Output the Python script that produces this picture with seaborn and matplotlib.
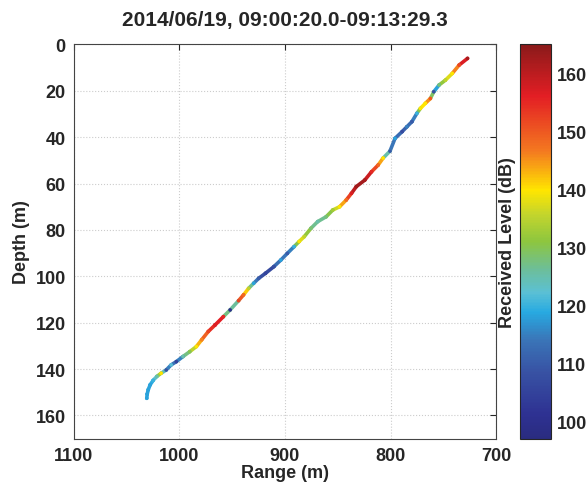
import numpy as np
import matplotlib
matplotlib.use("Agg")
import matplotlib.pyplot as plt
from matplotlib.collections import LineCollection
from matplotlib.colors import Normalize, LinearSegmentedColormap
import seaborn as sns

title = "2014/06/19, 09:00:20.0-09:13:29.3"

range_m = [727, 735, 741.5, 748, 754, 759, 762.2, 767, 771.7, 775, 779.7, 784.5,
           789, 795.7, 800.5, 807, 811.7, 818, 824.4, 832.4, 837, 842, 848.3,
           854.7, 861, 869, 875.4, 881.8, 886.6, 891.4, 897.8, 904, 910.5, 918.5,
           925, 929.7, 934.5, 939.3, 944, 952, 958.4, 966.3, 972.7, 979, 984,
           990.3, 996.7, 1003, 1007.9, 1012.6, 1017.4, 1021.5, 1025.0, 1027.8,
           1029.6, 1030.6, 1031.0]
depth_m = [6.0, 8.9, 12.5, 15.4, 17.5, 20.4, 23.3, 25.4, 27.6, 29.7, 33.3, 35.5,
           37.6, 40.5, 46.0, 49.0, 52.0, 54.9, 58.5, 61.3, 64.2, 67.1, 70.0,
           71.4, 74.3, 76.4, 79.3, 82.9, 85.0, 87.2, 90.1, 93.0, 95.8, 98.7,
           100.9, 103.0, 105.2, 108.0, 110.5, 114.5, 117.4, 121.0, 123.8, 127.4, 130.3,
           132.5, 134.6, 136.8, 138.2, 140.4, 141.8, 143.2, 144.9, 146.8,
           148.9, 150.8, 152.6]
level_db = [162, 152, 140, 135, 128, 108, 150, 140, 140, 120, 110, 115,
            107, 118, 110, 140, 148, 155, 162, 163, 157, 148, 140,
            133, 128, 125, 128, 135, 140, 120, 110, 118, 108, 105,
            110, 118, 135, 148, 152, 100, 155, 157, 152, 146, 140,
            130, 125, 105, 122, 108, 140, 125, 120, 118,
            118, 118, 118]

x_ticks = [1100, 1000, 900, 800, 700]
y_ticks = [0, 20, 40, 60, 80, 100, 120, 140, 160]
cbar_ticks = [100, 110, 120, 130, 140, 150, 160]

# muted jet-like colormap as seen on the reference colorbar
cmap = LinearSegmentedColormap.from_list("mjet", [
    (0.00, "#2A2C80"), (0.06, "#2E3192"), (0.17, "#3853A4"), (0.25, "#3A75B8"),
    (0.32, "#27AAE1"), (0.37, "#5BC0D5"), (0.43, "#6DBE98"), (0.50, "#8DC63F"),
    (0.57, "#C4D52C"), (0.63, "#FFE600"), (0.73, "#F47920"), (0.87, "#E31E24"),
    (1.00, "#8B1A1A")])

sns.set_style("white")
plt.rcParams["font.family"] = ["Liberation Sans", "DejaVu Sans"]
plt.rcParams["font.weight"] = "bold"

fig = plt.figure(figsize=(5.87, 4.89), dpi=100)
ax = fig.add_axes([0.126, 0.101, 0.719, 0.806])
cax = fig.add_axes([0.886, 0.101, 0.053, 0.806])

norm = Normalize(vmin=97, vmax=165)

r = np.array(range_m)
d = np.array(depth_m)
lv = np.array(level_db)
pts = np.column_stack([r, d]).reshape(-1, 1, 2)
segs = np.concatenate([pts[:-1], pts[1:]], axis=1)
seg_lv = (lv[:-1] + lv[1:]) / 2.0
lc = LineCollection(segs, cmap=cmap, norm=norm, linewidths=2.6, capstyle="round")
lc.set_array(seg_lv)
ax.add_collection(lc)
sns.scatterplot(x=r, y=d, hue=lv, palette=cmap, hue_norm=norm, s=7,
                linewidth=0, legend=False, ax=ax, zorder=3)

ax.set_xlim(1100, 700)
ax.set_ylim(170, 0)
ax.set_xticks(x_ticks)
ax.set_yticks(y_ticks)
ax.grid(True, linestyle=":", color="#cccccc", linewidth=0.8)
ax.tick_params(direction="in", top=True, right=True, length=4, labelsize=13,
               width=0.8, pad=6)
for lab in ax.get_xticklabels() + ax.get_yticklabels():
    lab.set_fontweight("bold")
for sp in ax.spines.values():
    sp.set_color("#444444")
    sp.set_linewidth(0.8)
ax.set_xlabel("Range (m)", fontsize=13, fontweight="bold", labelpad=0)
ax.set_ylabel("Depth (m)", fontsize=13, fontweight="bold", labelpad=4)
ax.set_title(title, fontsize=15, fontweight="bold", pad=14)

sm = plt.cm.ScalarMappable(norm=norm, cmap=cmap)
cb = fig.colorbar(sm, cax=cax, ticks=cbar_ticks)
cb.outline.set_linewidth(0.8)
cax.tick_params(direction="in", length=3, labelsize=13, width=0.8, pad=4)
for lab in cax.get_yticklabels():
    lab.set_fontweight("bold")
cb.set_label("Received Level (dB)", fontsize=13, fontweight="bold", labelpad=3)
cax.yaxis.set_label_position("left")

fig.savefig("out.png", dpi=100)
